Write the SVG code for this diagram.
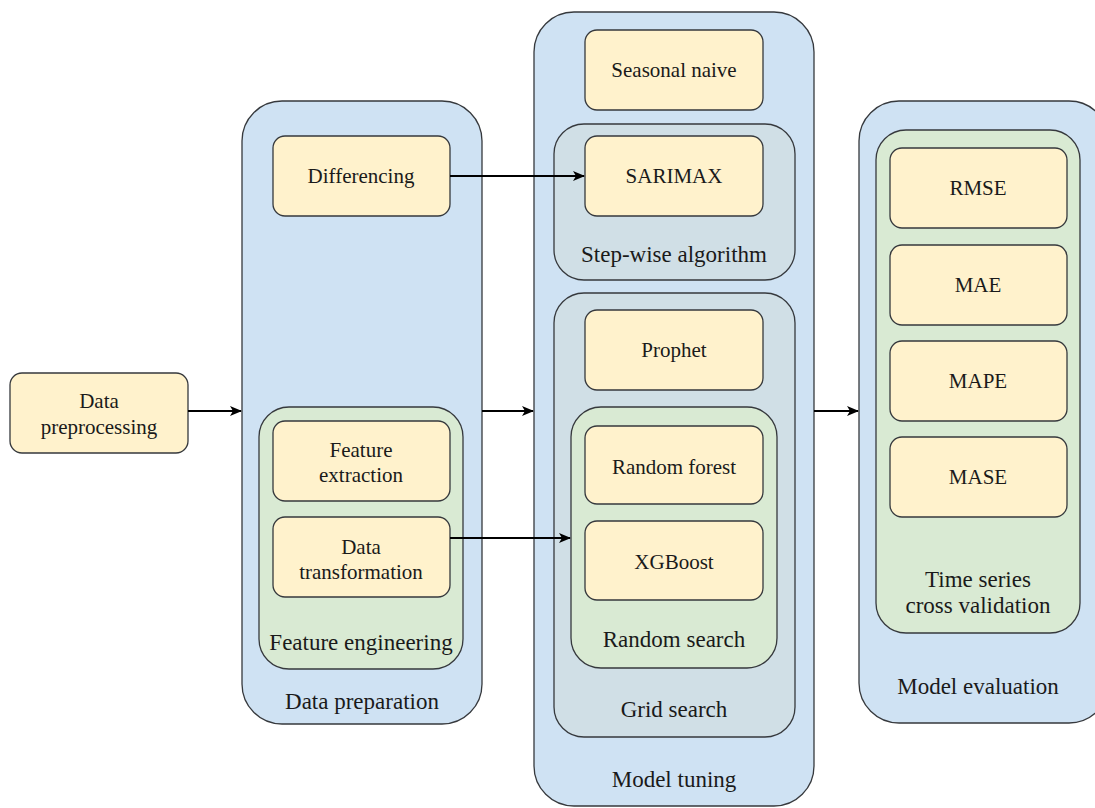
<svg xmlns="http://www.w3.org/2000/svg" width="1095" height="808" viewBox="0 0 1095 808">
<defs>
<style>
.n{fill:#fff2cc;stroke:#36393d;stroke-width:1.3}
.c{fill:#cfe2f3;stroke:#36393d;stroke-width:1.3}
.g{fill:#d0dfe6;stroke:#36393d;stroke-width:1.3}
.v{fill:#d9ead3;stroke:#36393d;stroke-width:1.3}
text{font-family:"Liberation Serif","Times New Roman",serif;fill:#1a1a1a;text-anchor:middle}
.t{font-size:21px}
.l{font-size:23px}
.e{stroke:#000;stroke-width:2;fill:none;marker-end:url(#ah)}
</style>
<marker id="ah" viewBox="0 0 12 10" refX="11" refY="5" markerWidth="12" markerHeight="10" markerUnits="userSpaceOnUse" orient="auto">
<path d="M0,0 L12,5 L0,10 L3,5 Z" fill="#000"/>
</marker>
</defs>
<g id="data-preprocessing">
<rect class="n" x="10" y="373" width="178" height="80" rx="12"/>
<text class="t" x="99" y="408">Data</text>
<text class="t" x="99" y="434">preprocessing</text>
</g>
<g id="data-preparation">
<rect class="c" x="242" y="101" width="240" height="623" rx="40"/>
<text class="l" x="362" y="709">Data preparation</text>
</g>
<g id="differencing">
<rect class="n" x="273" y="136" width="177" height="80" rx="12"/>
<text class="t" x="361" y="183">Differencing</text>
</g>
<g id="feature-engineering">
<rect class="v" x="259" y="407" width="204" height="262" rx="30"/>
<text class="l" x="361" y="650">Feature engineering</text>
</g>
<g id="feature-extraction">
<rect class="n" x="273" y="421" width="177" height="80" rx="12"/>
<text class="t" x="361" y="457">Feature</text>
<text class="t" x="361" y="482">extraction</text>
</g>
<g id="data-transformation">
<rect class="n" x="273" y="517" width="177" height="80" rx="12"/>
<text class="t" x="361" y="554">Data</text>
<text class="t" x="361" y="579">transformation</text>
</g>
<g id="model-tuning">
<rect class="c" x="534" y="12" width="280" height="794" rx="40"/>
<text class="l" x="674" y="787">Model tuning</text>
</g>
<g id="seasonal-naive">
<rect class="n" x="585" y="30" width="178" height="80" rx="12"/>
<text class="t" x="674" y="77">Seasonal naive</text>
</g>
<g id="step-wise">
<rect class="g" x="554" y="124" width="241" height="156" rx="30"/>
<text class="l" x="674" y="262">Step-wise algorithm</text>
</g>
<g id="sarimax">
<rect class="n" x="585" y="136" width="178" height="80" rx="12"/>
<text class="t" x="674" y="183">SARIMAX</text>
</g>
<g id="grid-search">
<rect class="g" x="554" y="293" width="241" height="444" rx="30"/>
<text class="l" x="674" y="717">Grid search</text>
</g>
<g id="prophet">
<rect class="n" x="585" y="310" width="178" height="80" rx="12"/>
<text class="t" x="674" y="357">Prophet</text>
</g>
<g id="random-search">
<rect class="v" x="571" y="407" width="206" height="261" rx="30"/>
<text class="l" x="674" y="647">Random search</text>
</g>
<g id="random-forest">
<rect class="n" x="585" y="426" width="178" height="78" rx="12"/>
<text class="t" x="674" y="474">Random forest</text>
</g>
<g id="xgboost">
<rect class="n" x="585" y="521" width="178" height="79" rx="12"/>
<text class="t" x="674" y="569">XGBoost</text>
</g>
<g id="model-evaluation">
<rect class="c" x="859" y="101" width="250" height="622" rx="40"/>
<text class="l" x="978" y="694">Model evaluation</text>
</g>
<g id="ts-cv">
<rect class="v" x="876" y="130" width="204" height="503" rx="30"/>
<text class="l" x="978" y="587">Time series</text>
<text class="l" x="978" y="613">cross validation</text>
</g>
<g id="rmse">
<rect class="n" x="890" y="148" width="177" height="80" rx="12"/>
<text class="t" x="978" y="195">RMSE</text>
</g>
<g id="mae">
<rect class="n" x="890" y="245" width="177" height="80" rx="12"/>
<text class="t" x="978" y="292">MAE</text>
</g>
<g id="mape">
<rect class="n" x="890" y="341" width="177" height="80" rx="12"/>
<text class="t" x="978" y="388">MAPE</text>
</g>
<g id="mase">
<rect class="n" x="890" y="437" width="177" height="80" rx="12"/>
<text class="t" x="978" y="484">MASE</text>
</g>
<g id="connectors">
<path class="e" d="M188,411 L241,411"/>
<path class="e" d="M482,411 L533,411"/>
<path class="e" d="M814,411 L858,411"/>
<path class="e" d="M450,176 L584,176"/>
<path class="e" d="M450,538 L570,538"/>
</g>
</svg>
